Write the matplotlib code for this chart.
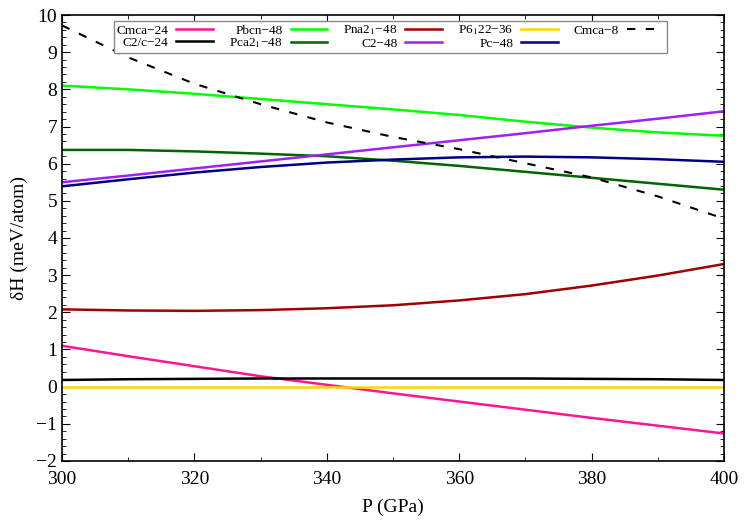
import matplotlib
matplotlib.use("Agg")
import matplotlib.pyplot as plt
from matplotlib.ticker import MultipleLocator

plt.rcParams['font.family'] = ['Liberation Serif', 'DejaVu Serif']
plt.rcParams['mathtext.fontset'] = 'stix'

P = [300, 310, 320, 330, 340, 350, 360, 370, 380, 390, 400]

cmca24 = [1.10, 0.82, 0.55, 0.28, 0.05, -0.18, -0.40, -0.62, -0.84, -1.05, -1.26]
c2c24 = [0.18, 0.20, 0.21, 0.22, 0.22, 0.22, 0.22, 0.22, 0.21, 0.20, 0.18]
pbcn48 = [8.10, 8.00, 7.88, 7.74, 7.60, 7.46, 7.31, 7.13, 6.97, 6.84, 6.75]
pca21_48 = [6.37, 6.37, 6.33, 6.27, 6.20, 6.08, 5.94, 5.78, 5.62, 5.46, 5.30]
pna21_48 = [2.08, 2.05, 2.04, 2.06, 2.11, 2.19, 2.32, 2.49, 2.72, 2.99, 3.30]
c2_48 = [5.50, 5.68, 5.87, 6.06, 6.25, 6.44, 6.63, 6.82, 7.02, 7.21, 7.41]
p6122_36 = [0.0] * 11
pc48 = [5.39, 5.58, 5.76, 5.91, 6.03, 6.11, 6.17, 6.19, 6.17, 6.12, 6.05]
cmca8 = [9.72, 8.86, 8.15, 7.60, 7.11, 6.72, 6.39, 6.01, 5.63, 5.12, 4.52]

labels = ['Cmca\u221224', 'C2/c\u221224', 'Pbcn\u221248', 'Pca2$_1$\u221248',
          'Pna2$_1$\u221248', 'C2\u221248', 'P6$_1$22\u221236', 'Pc\u221248', 'Cmca\u22128']
series = [cmca24, c2c24, pbcn48, pca21_48, pna21_48, c2_48, p6122_36, pc48, cmca8]
colors = ['#ff1493', '#000000', '#00ff00', '#006400', '#a00000', '#a020f0', '#ffd700', '#000080', '#000000']
styles = ['-'] * 8 + ['--']

fig = plt.figure(figsize=(7.5, 5.25), dpi=100)
ax = fig.add_axes([62/750, 1 - 461/525, (724-62)/750, (461-15)/525])

handles = []
for s, lab, c, ls in zip(series, labels, colors, styles):
    if ls == '--':
        h, = ax.plot(P, s, color=c, lw=1.5, ls=(0, (4, 5)), label=lab)
    else:
        h, = ax.plot(P, s, color=c, lw=1.8, ls=ls, label=lab)
    handles.append(h)

ax.set_xlim(300, 400)
ax.set_ylim(-2, 10)
ax.xaxis.set_major_locator(MultipleLocator(20))
ax.xaxis.set_minor_locator(MultipleLocator(10))
ax.yaxis.set_major_locator(MultipleLocator(1))
ax.yaxis.set_minor_locator(MultipleLocator(0.2))
ax.tick_params(which='both', direction='in', top=True, right=True, labelsize=14)
ax.tick_params(which='major', length=6, width=0.8)
ax.tick_params(which='minor', length=3, width=0.6)
ax.tick_params(axis='x', which='major', pad=7)
for sp in ax.spines.values():
    sp.set_linewidth(1.2)

ax.set_xlabel('P (GPa)', fontsize=14, labelpad=8)
ax.set_ylabel('\u03b4H (meV/atom)', fontsize=14, labelpad=6)

leg = ax.legend(handles=handles, ncol=5, markerfirst=False, loc='upper left',
                bbox_to_anchor=((114-62)/662, (461-21)/446), borderaxespad=0,
                fontsize=9.5, handlelength=2.8, columnspacing=1.2, handletextpad=0.6,
                labelspacing=0.0, borderpad=0.2, fancybox=False, framealpha=1,
                edgecolor='#888888')
leg.get_frame().set_linewidth(1.0)

fig.savefig('out.png', dpi=100)
